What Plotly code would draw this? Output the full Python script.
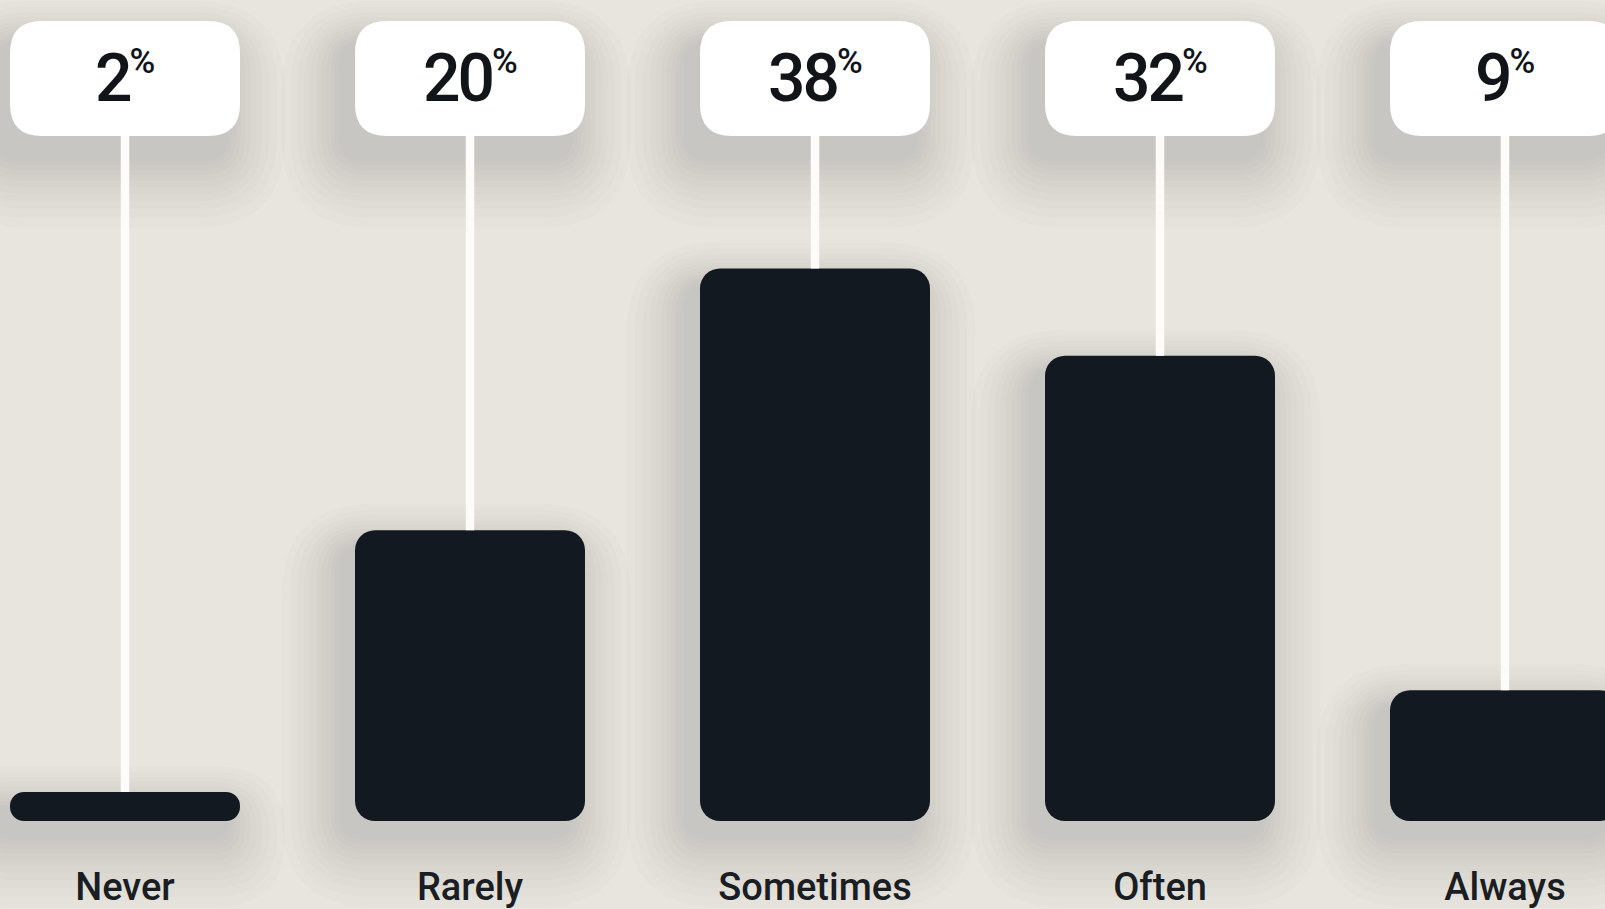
import plotly.graph_objects as go

categories = ["Never", "Rarely", "Sometimes", "Often", "Always"]
values = [2, 20, 38, 32, 9]

W, H = 1605, 909
BASE = 821          # pixel row of the bar baseline
PX_PER_UNIT = 14.54 # vertical pixels per percentage point
X0_PX = 125         # pixel centre of first category
STEP = 345          # pixels between categories
BAR_W_PX = 230
PILL_TOP, PILL_BOT = 21, 136
PILL_R = 32

x_lo = -X0_PX / STEP
x_hi = (W - X0_PX) / STEP
y_hi = BASE / PX_PER_UNIT
y_lo = -(H - BASE) / PX_PER_UNIT


def yd(py):
    return (BASE - py) / PX_PER_UNIT


def rrect(xc, half_px, top_px, bot_px, r):
    r = min(r, (bot_px - top_px) / 2, half_px)
    L, R = -half_px, half_px
    p = lambda a, b: f"{xc + a / STEP:.5f},{yd(b):.4f}"
    return (
        f"M {p(L + r, top_px)} L {p(R - r, top_px)} Q {p(R, top_px)} {p(R, top_px + r)} "
        f"L {p(R, bot_px - r)} Q {p(R, bot_px)} {p(R - r, bot_px)} "
        f"L {p(L + r, bot_px)} Q {p(L, bot_px)} {p(L, bot_px - r)} "
        f"L {p(L, top_px + r)} Q {p(L, top_px)} {p(L + r, top_px)} Z"
    )


shapes = []
# soft shadows (layered translucent rounded rectangles)
spreads = [3, 7, 12, 17, 23, 29, 36, 43, 51, 60, 70]
for i, v in enumerate(values):
    bar_top = BASE - v * PX_PER_UNIT
    for e in spreads:
        for (t, b, dy) in [(bar_top, BASE, 16), (PILL_TOP, PILL_BOT, 22)]:
            shapes.append(dict(
                type="path", xref="x", yref="y", layer="below",
                path=rrect(i - 14 / STEP, BAR_W_PX / 2 + e * 0.85, t - e * 0.6 + dy, b + e + dy, 22 + e),
                fillcolor="rgb(118,114,104)", line=dict(width=0), opacity=0.019,
            ))
# pills
for i, v in enumerate(values):
    shapes.append(dict(
        type="path", xref="x", yref="y", layer="above",
        path=rrect(i, BAR_W_PX / 2, PILL_TOP, PILL_BOT, PILL_R),
        fillcolor="#ffffff", line=dict(width=0),
    ))

fig = go.Figure()

xs = list(range(len(values)))

# stems from bar top up to the label pill
sx, sy = [], []
for i, v in enumerate(values):
    sx += [i, i, None]
    sy += [v, yd(PILL_BOT) + 0.5, None]
fig.add_trace(go.Scatter(x=sx, y=sy, mode="lines", line=dict(color="#fdfcfa", width=8.5),
                         hoverinfo="skip", showlegend=False))

fig.add_trace(go.Bar(x=xs, y=values, base=[0] * len(values), width=BAR_W_PX / STEP,
                     marker=dict(color="#121920", line=dict(width=0)),
                     showlegend=False, hoverinfo="skip"))

annotations = []
for i, v in enumerate(values):
    annotations.append(dict(
        x=i, y=yd((PILL_TOP + PILL_BOT) / 2), xref="x", yref="y",
        text=f"<span style='letter-spacing:-3px'>{v}</span><sup><span style='font-size:35px'>%</span></sup>",
        showarrow=False, xanchor="center", yanchor="middle", yshift=0,
        font=dict(family="Roboto", size=66, color="#111418", weight=500),
    ))

fig.update_layout(
    width=W, height=H,
    margin=dict(l=0, r=0, t=0, b=0, pad=0),
    paper_bgcolor="#e8e5df", plot_bgcolor="#e8e5df",
    barmode="overlay", barcornerradius=20,
    shapes=shapes, annotations=annotations,
    xaxis=dict(range=[x_lo, x_hi], tickvals=xs, ticktext=categories,
               anchor="free", position=(H - BASE) / H, automargin=False,
               showgrid=False, zeroline=False, showline=False, ticks="",
               tickfont=dict(family="Roboto", size=38, color="#1a1e23", weight=500),
               ticklabelstandoff=40, fixedrange=True),
    yaxis=dict(range=[y_lo, y_hi], showgrid=False, zeroline=False, showline=False,
               showticklabels=False, ticks="", fixedrange=True, automargin=False),
)

fig.write_html("out.html")
